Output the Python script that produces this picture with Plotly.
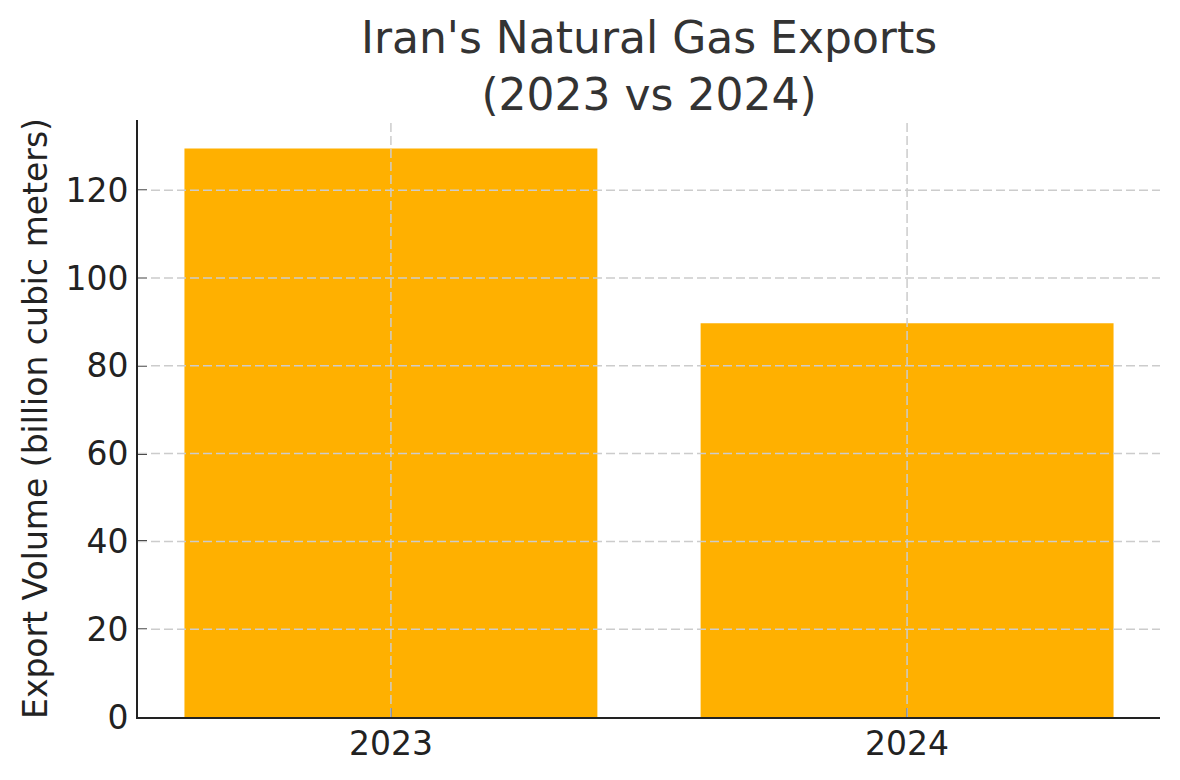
import plotly.graph_objects as go

years = ['2023', '2024']
exports = [129.5, 89.7]
y_ticks = [0, 20, 40, 60, 80, 100, 120]

fig = go.Figure()

fig.add_trace(go.Bar(x=years, y=exports, marker=dict(color='#FFB000', line=dict(width=0)),
                     width=0.8))

# grid drawn on top of the bars, like the original
grid = dict(color='#cccccc', width=1.5, dash='9px,4px')
for v in y_ticks[1:]:
    fig.add_shape(type='line', xref='paper', yref='y', x0=0, x1=1, y0=v, y1=v,
                  line=grid, layer='above')
for i, yr in enumerate(years):
    fig.add_shape(type='line', xref='x', yref='paper', x0=i, x1=i, y0=0, y1=1,
                  line=grid, layer='above')

# page body has an 8px margin, so the figure is a bit smaller than the window
fig.update_layout(
    width=1164, height=764,
    template='plotly_white',
    plot_bgcolor='white', paper_bgcolor='white',
    font=dict(family='DejaVu Sans', size=33, color='#222222'),
    title=dict(text="Iran's Natural Gas Exports<br>(2023 vs 2024)",
               x=0.5, xref='paper', xanchor='center',
               y=1 - 45 / 764, yref='container', yanchor='middle',
               font=dict(size=44, color='#333333')),
    margin=dict(l=130, r=12, t=112, b=55),
    showlegend=False,
    bargap=0.2,
)

fig.update_xaxes(type='category', range=[-0.49, 1.49], showgrid=False, automargin=False,
                 showline=True, linecolor='#222222', linewidth=2,
                 ticks='inside', ticklen=9, tickwidth=2, tickcolor='#222222',
                 ticklabelstandoff=-4, layer='above traces',
                 tickfont=dict(size=33, color='#222222'))
fig.update_yaxes(range=[0, 136], tickvals=y_ticks, showgrid=False, zeroline=False,
                 automargin=False,
                 showline=True, linecolor='#222222', linewidth=2,
                 ticks='inside', ticklen=9, tickwidth=2, tickcolor='#222222',
                 ticklabelstandoff=1, layer='above traces',
                 tickfont=dict(size=33, color='#222222'),
                 title=dict(text='Export Volume (billion cubic meters)',
                            font=dict(size=33, color='#222222'), standoff=8))

fig.write_html("out.html")
